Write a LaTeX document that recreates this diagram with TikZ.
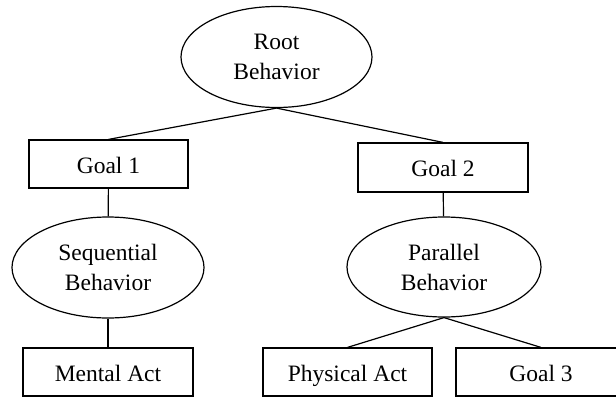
\documentclass[tikz,border=0pt]{standalone}
\usepackage{fontspec}
\setmainfont{Liberation Serif}
\usepackage{tikz}
\usetikzlibrary{shapes.geometric}

\begin{document}
\begin{tikzpicture}[x=1pt, y=-1pt, line width=1.2pt,
    behavior/.style={draw, ellipse, inner sep=0pt, align=center,
      minimum width=193pt, minimum height=100pt},
    goalbox/.style={draw, rectangle, inner sep=0pt,
      text height=18pt, text depth=0pt,
      minimum width=170pt, minimum height=48pt},
    every node/.style={font=\fontsize{23.5}{30}\selectfont}]
    \clip (0, 0) rectangle (616, 397);

    % Behaviors
    \node [behavior, minimum width=191pt, minimum height=101pt] (root) at (276.5, 57) {Root\\Behavior};
    \node [behavior, minimum width=192pt, minimum height=101pt] (seq) at (108, 267.5) {Sequential\\Behavior};
    \node [behavior, minimum width=194pt] (par) at (444, 267) {Parallel\\Behavior};

    % Goals and acts
    \node [goalbox, minimum width=159pt] (goal1) at (108.5, 164) {Goal 1};
    \node [goalbox, minimum height=49pt] (goal2) at (443, 167.5) {Goal 2};
    \node [goalbox] (mental) at (108, 372) {Mental Act};
    \node [goalbox, minimum width=169pt] (physical) at (347.5, 372) {Physical Act};
    \node [goalbox] (goal3) at (541, 372) {Goal 3};

    \draw (root.south) -- (goal1.north);
    \draw (root.south) -- (goal2.north);
    \draw (goal1) -- (seq);
    \draw (seq) -- (mental);
    \draw (goal2) -- (par);
    \draw (par.south) -- (physical.north);
    \draw (par.south) -- (goal3.north);
  \end{tikzpicture}
\end{document}
